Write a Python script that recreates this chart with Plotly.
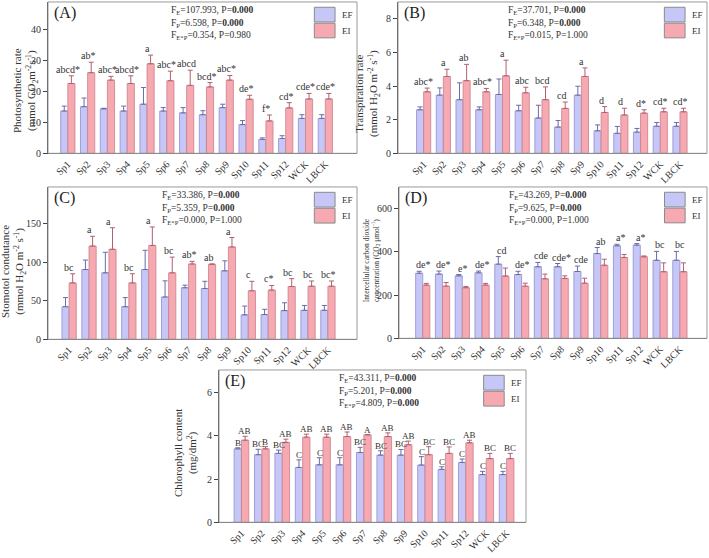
import plotly.graph_objects as go

cats = ["Sp1", "Sp2", "Sp3", "Sp4", "Sp5", "Sp6", "Sp7", "Sp8", "Sp9", "Sp10", "Sp11", "Sp12", "WCK", "LBCK"]

# Panel A - photosynthetic rate
a_ef = [13.7, 15.1, 14.4, 13.7, 15.9, 13.7, 13.1, 12.5, 14.8, 9.3, 4.5, 4.8, 11.3, 11.3]
a_ef_err = [1.6, 2.8, 0.2, 1.6, 5.4, 1.1, 1.7, 1.3, 1.1, 1.3, 0.5, 0.9, 1.2, 1.2]
a_ei = [22.6, 26.1, 23.7, 22.6, 29.0, 23.5, 22.0, 21.5, 23.7, 17.5, 10.5, 14.7, 17.6, 17.6]
a_ei_err = [2.5, 3.4, 1.2, 2.5, 2.8, 3.1, 4.9, 1.4, 1.5, 1.3, 1.9, 1.7, 1.8, 1.8]
a_lab = ["abcd*", "ab*", "abc*", "abcd*", "a", "abc*", "abcd", "bcd*", "abc*", "de*", "f*", "cd*", "cde*", "cde*"]

# Panel B - transpiration rate
b_ef = [2.59, 3.46, 3.19, 2.59, 3.5, 2.53, 2.1, 1.56, 3.46, 1.34, 1.19, 1.26, 1.61, 1.61]
b_ef_err = [0.17, 0.43, 1.0, 0.17, 0.92, 0.33, 0.76, 0.39, 0.53, 0.35, 0.41, 0.22, 0.22, 0.22]
b_ei = [3.66, 4.57, 4.32, 3.66, 4.61, 3.6, 3.19, 2.67, 4.57, 2.43, 2.28, 2.39, 2.47, 2.47]
b_ei_err = [0.22, 0.43, 0.97, 0.2, 0.93, 0.33, 0.76, 0.38, 0.51, 0.35, 0.4, 0.2, 0.21, 0.21]
b_lab = ["abc*", "a", "ab", "abc*", "a", "abc", "bcd", "cd", "a", "d", "d", "d*", "cd*", "cd*"]

# Panel C - stomatal conductance
c_ef = [42.4, 90.7, 86.4, 42.4, 90.7, 55.0, 67.0, 66.0, 89.0, 31.8, 32.2, 37.3, 37.7, 37.7]
c_ef_err = [11.8, 12.3, 26.7, 11.8, 25.0, 21.0, 3.4, 9.4, 13.0, 11.4, 6.8, 10.2, 6.3, 6.3]
c_ei = [73.3, 121.2, 117.0, 73.3, 122.0, 86.4, 97.9, 97.5, 120.0, 63.1, 64.0, 68.6, 69.0, 69.0]
c_ei_err = [11.9, 12.7, 28.0, 11.9, 24.0, 20.4, 3.4, 0.5, 12.3, 12.3, 6.0, 10.2, 6.8, 6.8]
c_lab = ["bc", "a", "a", "bc", "a", "bc", "ab*", "ab", "a", "c", "c*", "bc", "bc", "bc*"]

# Panel D - intercellular CO2 concentration
d_ef = [301, 297, 289, 303, 343, 295, 331, 331, 309, 392, 428, 431, 361, 361]
d_ef_err = [9, 14, 6, 8, 35, 15, 20, 15, 25, 28, 7, 7, 41, 41]
d_ei = [246, 241, 234, 246, 288, 241, 275, 277, 255, 338, 374, 377, 308, 308]
d_ei_err = [8, 17, 6, 8, 37, 14, 22, 12, 23, 28, 14, 4, 41, 41]
d_lab = ["de*", "de*", "e*", "de*", "cd", "de*", "cde", "cde*", "cde", "ab", "a*", "a*", "bc", "bc"]

# Panel E - chlorophyll content
e_ef = [3.4, 3.13, 3.19, 2.54, 2.66, 2.66, 3.23, 3.11, 3.11, 2.65, 2.45, 2.77, 2.21, 2.21]
e_ef_err = [0.05, 0.25, 0.15, 0.35, 0.33, 0.33, 0.24, 0.2, 0.26, 0.39, 0.12, 0.16, 0.15, 0.15]
e_ei = [3.8, 3.4, 3.7, 3.94, 3.94, 3.97, 4.05, 3.97, 3.59, 3.13, 3.19, 3.68, 2.95, 2.95]
e_ei_err = [0.18, 0.1, 0.15, 0.14, 0.14, 0.21, 0.01, 0.17, 0.17, 0.37, 0.3, 0.12, 0.24, 0.24]
e_lab_ef = ["B", "BC", "BC", "C", "C", "C", "BC", "BC", "BC", "C", "C", "C", "C", "C"]
e_lab_ei = ["AB", "B", "AB", "AB", "AB", "AB", "A", "AB", "AB", "BC", "BC", "AB", "BC", "BC"]

stats_a = ["F<sub>E</sub>=107.993, P=<b>0.000</b>", "F<sub>P</sub>=6.598, P=<b>0.000</b>", "F<sub>E*P</sub>=0.354, P=0.980"]
stats_b = ["F<sub>E</sub>=37.701, P=<b>0.000</b>", "F<sub>P</sub>=6.348, P=<b>0.000</b>", "F<sub>E*P</sub>=0.015, P=1.000"]
stats_c = ["F<sub>E</sub>=33.386, P=<b>0.000</b>", "F<sub>P</sub>=5.359, P=<b>0.000</b>", "F<sub>E*P</sub>=0.000, P=1.000"]
stats_d = ["F<sub>E</sub>=43.269, P=<b>0.000</b>", "F<sub>P</sub>=9.625, P=<b>0.000</b>", "F<sub>E*P</sub>=0.000, P=1.000"]
stats_e = ["F<sub>E</sub>=43.311, P=<b>0.000</b>", "F<sub>P</sub>=5.201, P=<b>0.000</b>", "F<sub>E*P</sub>=4.809, P=<b>0.000</b>"]

FONT = "Liberation Serif"
TXT = "#333333"
EF_FILL, EF_LINE = "#c6c6f7", "#8f8fcf"
EI_FILL, EI_LINE = "#f7a9b2", "#c97f8a"

W, H = 709, 558
def dx(p): return p / W
def dy(p): return 1 - p / H

panels = [
    dict(k="", xp=(48, 357), yp=(2, 155), yr=[0, 49], xr=[-1.0, 14.6], dt=10,
         ef=a_ef, efe=a_ef_err, ei=a_ei, eie=a_ei_err, lab=a_lab, stats=stats_a, tag="(A)",
         title="Photosynthetic rate<br>(mmol CO<sub>2</sub>m<sup>-2</sup>s<sup>-1</sup>)", tp=(25, 92), ts=11),
    dict(k="2", xp=(398, 707), yp=(2, 155), yr=[0, 9], xr=[-1.3, 14.37], dt=2,
         ef=b_ef, efe=b_ef_err, ei=b_ei, eie=b_ei_err, lab=b_lab, stats=stats_b, tag="(B)",
         title="Transpiration rate<br>(mmol H<sub>2</sub>O m<sup>-2</sup> s<sup>-1</sup>)", tp=(368, 95), ts=11),
    dict(k="3", xp=(48, 357), yp=(189, 343), yr=[0, 198], xr=[-1.06, 14.46], dt=50,
         ef=c_ef, efe=c_ef_err, ei=c_ei, eie=c_ei_err, lab=c_lab, stats=stats_c, tag="(C)",
         title="Stomotol condutance<br>(mmol H<sub>2</sub>O m<sup>-2</sup> s<sup>-1</sup>)", tp=(13, 275), ts=11),
    dict(k="4", xp=(399, 707), yp=(189, 342), yr=[0, 700], xr=[-1.2, 14.37], dt=200,
         ef=d_ef, efe=d_ef_err, ei=d_ei, eie=d_ei_err, lab=d_lab, stats=stats_d, tag="(D)",
         title="Intercellular carbon dioxide<br>concentration (CO<sub>2</sub> μmol<sup>-1</sup>)", tp=(371, 263), ts=7.5),
    dict(k="5", xp=(219, 526), yp=(374, 528), yr=[0, 7.05], xr=[-1.1, 13.95], dt=2,
         ef=e_ef, efe=e_ef_err, ei=e_ei, eie=e_ei_err, lab=None, stats=stats_e, tag="(E)",
         title="Chlorophyll content<br>(mg/dm<sup>2</sup>)", tp=(185, 458), ts=11),
]

fig = go.Figure()
annotations = []
shapes = []
layout = {}

for p in panels:
    k = p["k"]
    xa, ya = "x" + k, "y" + k
    xname = "xaxis" + k
    yname = "yaxis" + k
    fig.add_trace(go.Bar(x=cats, y=p["ef"], name="EF", xaxis=xa, yaxis=ya, showlegend=False,
                         marker=dict(color=EF_FILL, line=dict(color=EF_LINE, width=0.8)),
                         error_y=dict(type="data", symmetric=False, array=p["efe"], arrayminus=[0] * len(cats),
                                      color="#6b6ba8", thickness=1, width=2.5)))
    fig.add_trace(go.Bar(x=cats, y=p["ei"], name="EI", xaxis=xa, yaxis=ya, showlegend=False,
                         marker=dict(color=EI_FILL, line=dict(color=EI_LINE, width=0.8)),
                         error_y=dict(type="data", symmetric=False, array=p["eie"], arrayminus=[0] * len(cats),
                                      color="#b06070", thickness=1, width=2.5)))
    layout[xname] = dict(domain=[dx(p["xp"][0]), dx(p["xp"][1])], anchor=ya, type="category",
                         range=p["xr"], showline=True, linecolor="#444", linewidth=1, ticks="",
                         tickangle=-45, tickfont=dict(family=FONT, size=10, color=TXT), showgrid=False)
    layout[yname] = dict(domain=[dy(p["yp"][1]), dy(p["yp"][0])], anchor=xa, range=p["yr"], dtick=p["dt"],
                         showline=True, linecolor="#444", linewidth=1, ticks="outside", ticklen=4,
                         tickcolor="#444", tickfont=dict(family=FONT, size=10, color=TXT), showgrid=False,
                         zeroline=False)
    xd, yd = xa + " domain", ya + " domain"
    shapes.append(dict(type="rect", xref=xd, yref=yd, x0=0, x1=1, y0=0, y1=1,
                       line=dict(color="#9a9a9a", width=1)))
    shapes.append(dict(type="rect", xref=xd, yref=yd, x0=0.862, x1=0.929, y0=0.868, y1=0.965,
                       fillcolor=EF_FILL, line=dict(color="#8a8a8a", width=1)))
    shapes.append(dict(type="rect", xref=xd, yref=yd, x0=0.862, x1=0.929, y0=0.763, y1=0.86,
                       fillcolor=EI_FILL, line=dict(color="#8a8a8a", width=1)))
    annotations.append(dict(xref=xd, yref=yd, x=0.945, y=0.916, text="EF", showarrow=False,
                            xanchor="left", yanchor="middle", font=dict(family=FONT, size=9, color=TXT)))
    annotations.append(dict(xref=xd, yref=yd, x=0.945, y=0.811, text="EI", showarrow=False,
                            xanchor="left", yanchor="middle", font=dict(family=FONT, size=9, color=TXT)))
    annotations.append(dict(xref=xd, yref=yd, x=0.013, y=0.925, text=p["tag"], showarrow=False,
                            xanchor="left", yanchor="middle", font=dict(family=FONT, size=16, color="#222")))
    sx = {"": 0.39, "2": 0.35, "3": 0.362, "4": 0.35, "5": 0.383}[k]
    for j, s in enumerate(p["stats"]):
        annotations.append(dict(xref=xd, yref=yd, x=sx, y=1 - (8.5 + 12.8 * j) / 153, text=s, showarrow=False,
                                xanchor="left", yanchor="middle", font=dict(family=FONT, size=9.5, color=TXT)))
    annotations.append(dict(xref="paper", yref="paper", x=dx(p["tp"][0]), y=dy(p["tp"][1]), text=p["title"],
                            showarrow=False, textangle=-90, xanchor="center", yanchor="middle",
                            font=dict(family=FONT, size=p["ts"], color=TXT)))
    if p["lab"] is not None:
        for i, c in enumerate(cats):
            top = max(p["ef"][i] + p["efe"][i], p["ei"][i] + p["eie"][i])
            annotations.append(dict(xref=xa, yref=ya, x=c, y=top, text=p["lab"][i], showarrow=False,
                                    xanchor="center", yanchor="bottom", yshift=-1,
                                    font=dict(family=FONT, size=10, color=TXT)))
    else:
        for i, c in enumerate(cats):
            annotations.append(dict(xref=xa, yref=ya, x=c, y=p["ef"][i] + p["efe"][i], text=e_lab_ef[i],
                                    showarrow=False, xanchor="center", yanchor="bottom", xshift=-3.5, yshift=-2,
                                    font=dict(family=FONT, size=9, color=TXT)))
            annotations.append(dict(xref=xa, yref=ya, x=c, y=p["ei"][i] + p["eie"][i], text=e_lab_ei[i],
                                    showarrow=False, xanchor="center", yanchor="bottom", xshift=3.5, yshift=-2,
                                    font=dict(family=FONT, size=9, color=TXT)))

fig.update_layout(
    width=W, height=H, margin=dict(l=0, r=0, t=0, b=0),
    paper_bgcolor="white", plot_bgcolor="white",
    barmode="group", bargap=0.28, bargroupgap=0,
    showlegend=False, annotations=annotations, shapes=shapes,
    font=dict(family=FONT, color=TXT),
    **layout
)

fig.write_html("out.html", config={"displayModeBar": False},
               post_script="document.body.style.margin='0px';document.body.style.overflow='hidden';")
